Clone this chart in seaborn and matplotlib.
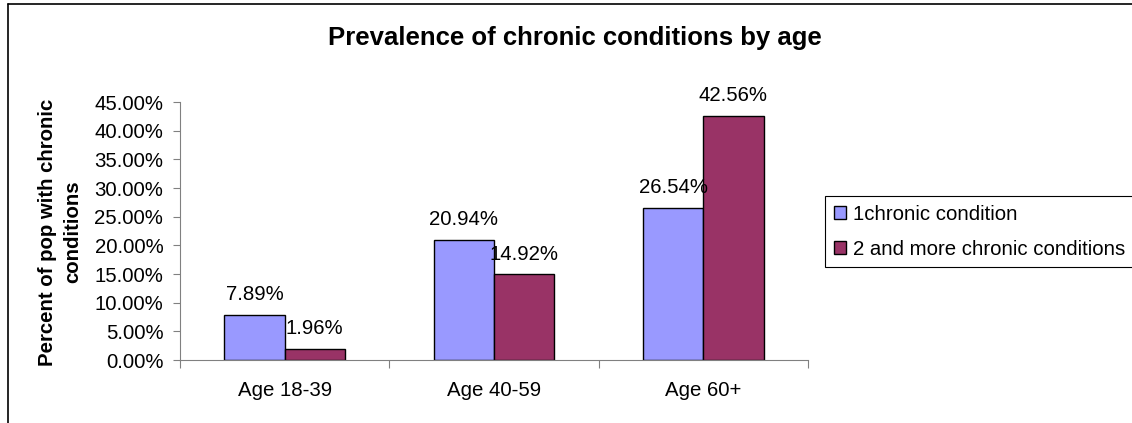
#!/usr/bin/env python3
"""Prevalence of chronic conditions by age - grouped bar chart."""
import matplotlib
matplotlib.use('Agg')
import matplotlib.pyplot as plt
from matplotlib.lines import Line2D
from matplotlib.ticker import FuncFormatter, FixedLocator
import pandas as pd
import seaborn as sns

ages = ['Age 18-39', 'Age 40-59', 'Age 60+']
series = ['1chronic condition', '2 and more chronic conditions']
one_condition = [7.89, 20.94, 26.54]
two_plus = [1.96, 14.92, 42.56]
colors = ['#9999FF', '#993366']

df = pd.DataFrame({
    'age': ages * 2,
    'series': [series[0]] * 3 + [series[1]] * 3,
    'pct': [v / 100 for v in one_condition + two_plus],
})

sns.set_style('white')
plt.rcParams['font.family'] = ['Liberation Sans', 'DejaVu Sans']
plt.rcParams['text.color'] = 'black'
plt.rcParams['axes.labelcolor'] = 'black'
plt.rcParams['xtick.color'] = 'black'
plt.rcParams['ytick.color'] = 'black'

FS = 14.7
W, H = 1132, 423
fig = plt.figure(figsize=(W / 100, H / 100), dpi=100)
ax = fig.add_axes([180 / W, 1 - 360 / H, (808 - 180) / W, (360 - 102) / H])

sns.barplot(data=df, x='age', y='pct', hue='series', palette=colors,
            width=0.575, edgecolor='black', linewidth=1.0, saturation=1,
            ax=ax)

# data labels
for cont in ax.containers:
    for bar in cont:
        h = bar.get_height()
        ax.annotate(f'{h * 100:.2f}%', (bar.get_x() + bar.get_width() / 2, h),
                    xytext=(0, 14.5), textcoords='offset points',
                    ha='center', va='center', fontsize=FS)

ax.set_ylim(0, 0.45)
ax.set_xlim(-0.5, 2.5)
ax.yaxis.set_major_locator(FixedLocator([i * 0.05 for i in range(10)]))
ax.yaxis.set_major_formatter(FuncFormatter(lambda v, p: f'{v * 100:.2f}%'))
ax.tick_params(axis='y', which='major', direction='out', length=5,
               width=0.8, color='#808080', labelsize=FS, pad=7, left=True)

# category separator ticks, labels on minor ticks
ax.xaxis.set_major_locator(FixedLocator([-0.5, 0.5, 1.5, 2.5]))
ax.xaxis.set_major_formatter(FuncFormatter(lambda v, p: ''))
ax.xaxis.set_minor_locator(FixedLocator([0, 1, 2]))
ax.set_xticklabels(ages, minor=True)
ax.tick_params(axis='x', which='major', direction='out', length=6,
               width=0.8, color='#808080', bottom=True)
ax.tick_params(axis='x', which='minor', length=0, labelsize=FS, pad=15)

for side in ['top', 'right']:
    ax.spines[side].set_visible(False)
for side in ['left', 'bottom']:
    ax.spines[side].set_color('#808080')
    ax.spines[side].set_linewidth(0.8)

ax.set_xlabel('')
ax.set_ylabel('')
fig.text(60 / W, 1 - 232 / H, 'Percent of pop with chronic\nconditions',
         rotation=90, ha='center', va='center', fontsize=FS,
         fontweight='bold', linespacing=1.45)
fig.text(575 / W, 1 - 38 / H, 'Prevalence of chronic conditions by age',
         ha='center', va='center', fontsize=18.5, fontweight='bold')

handles, labels = ax.get_legend_handles_labels()
ax.legend(handles, labels, loc='upper left',
          bbox_to_anchor=(825 / W, 1 - 196 / H), bbox_transform=fig.transFigure,
          frameon=True, fancybox=False, edgecolor='black', framealpha=1,
          fontsize=FS, handlelength=0.6, handleheight=0.6,
          handletextpad=0.35, borderpad=0.42, labelspacing=0.8,
          borderaxespad=0)
ax.get_legend().get_frame().set_linewidth(0.8)

# outer chart border (left and top visible)
fig.add_artist(Line2D([8 / W, 8 / W], [0, 1 - 4 / H], color='black', lw=1.2))
fig.add_artist(Line2D([8 / W, 1], [1 - 4 / H, 1 - 4 / H], color='black', lw=1.2))

fig.savefig('out.png', dpi=100)
plt.close(fig)
